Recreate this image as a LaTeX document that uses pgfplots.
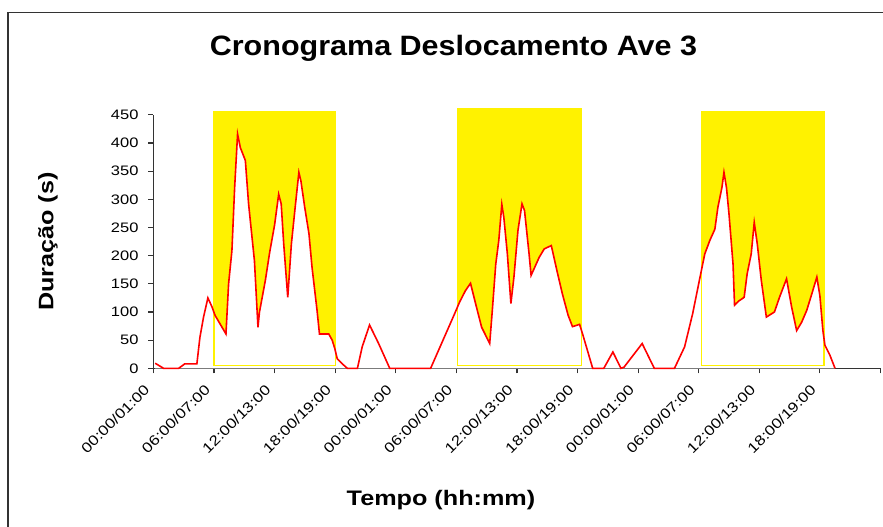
\documentclass[border=0pt]{standalone}
\usepackage{fontspec}
\setmainfont{Liberation Sans}[FakeStretch=1.2]
\newfontfamily\titlefont{Liberation Sans}[FakeStretch=1.09]
\usepackage{pgfplots}
\pgfplotsset{compat=1.18}
\usepackage{pgfplotstable}

\pgfplotstableread{
h v
0.17 9
1.0 0
2.5 0
3.1 8
4.3 8
4.6 55
4.96 91
5.39 125
5.8 109
6.1 94
7.18 61
7.44 150
7.77 209
8.04 321
8.33 416
8.6 392
9.1 369
9.42 292
10.0 191
10.35 73
10.5 100
11.08 156
11.5 205
12.0 255
12.4 309
12.65 292
12.9 221
13.3 126
13.66 221
14.0 280
14.4 348
14.6 333
14.98 286
15.4 239
15.7 180
16.2 103
16.44 61
17.36 61
17.7 50
17.96 35
18.2 17
18.7 8
19.2 0
20.2 0
20.67 38
21.4 77
22.3 44
23.4 0
27.45 0
29.9 100
30.3 117
30.9 138
31.4 151
31.9 115
32.5 73
33.3 44
33.56 103
33.9 185
34.2 227
34.5 291
34.7 268
35.05 203
35.4 115
35.7 162
36.1 245
36.5 292
36.75 280
37.2 203
37.4 165
38.2 197
38.7 212
39.4 218
39.95 174
40.5 132
41.07 94
41.5 74
42.2 78
42.5 61
43.5 0
44.6 0
45.5 29
46.3 0
46.6 2
48.4 44
49.6 0
51.6 0
52.6 38
53.4 97
54.2 168
54.6 203
55.1 227
55.6 247
55.9 286
56.3 321
56.5 348
56.75 321
57.0 274
57.4 185
57.55 112
58.0 120
58.5 126
58.8 168
59.2 203
59.5 259
59.8 221
60.2 156
60.7 91
61.5 100
62.0 126
62.7 159
63.2 109
63.7 67
64.2 82
64.7 103
65.2 132
65.7 162
66.0 129
66.3 67
66.5 41
67.0 23
67.5 0
}\duracao

\begin{document}
\begin{tikzpicture}[x=1pt,y=1pt]
\path[use as bounding box] (0,0) rectangle (662.25,395.25);
\fill[white] (0,0) rectangle (662.25,395.25);
\draw[line width=0.9pt, black!80] (6,-2) -- (6,385.9) -- (664,385.9);
\begin{axis}[
  at={(115.1pt,119.0pt)}, anchor=south west,
  width=545.25pt, height=190.1pt, scale only axis,
  xmin=0, xmax=72, ymin=0, ymax=450,
  axis x line=bottom, axis y line=left,
  axis line style={-, line width=1.1pt, black!80},
  tick align=outside, major tick length=3.75pt,
  tick style={black!80, line width=0.9pt},
  xtick={0,6,...,72},
  xticklabels={00:00/01:00,06:00/07:00,12:00/13:00,18:00/19:00,00:00/01:00,06:00/07:00,12:00/13:00,18:00/19:00,00:00/01:00,06:00/07:00,12:00/13:00,18:00/19:00,{}},
  ytick={0,50,...,450},
  xticklabel style={yshift=-8pt, xshift=-2.5pt, rotate=45, anchor=east, font=\fontsize{10.6}{12}\selectfont},
  yticklabel style={xshift=-4pt, font=\fontsize{10.3}{12}\selectfont},
  /pgf/number format/assume math mode=true,
  clip=false,
]
% yellow periods
\addplot[fill=yellow, draw=none] coordinates {(6.0,5) (6.0,455) (18.0,455) (18.0,5)} -- cycle;
\addplot[fill=yellow, draw=none] coordinates {(30.1,5) (30.1,462) (42.4,462) (42.4,5)} -- cycle;
\addplot[fill=yellow, draw=none] coordinates {(54.3,5) (54.3,455) (66.4,455) (66.4,5)} -- cycle;
% white under the curve
\addplot[fill=white, draw=none] table[x=h, y=v] {\duracao} \closedcycle;
% yellow outlines
\addplot[draw=yellow, line width=0.9pt] coordinates {(6.0,5) (6.0,455) (18.0,455) (18.0,5)} -- cycle;
\addplot[draw=yellow, line width=0.9pt] coordinates {(30.1,5) (30.1,462) (42.4,462) (42.4,5)} -- cycle;
\addplot[draw=yellow, line width=0.9pt] coordinates {(54.3,5) (54.3,455) (66.4,455) (66.4,5)} -- cycle;
% red line
\addplot[red, line width=1.2pt] table[x=h, y=v] {\duracao};
\end{axis}
\node[font=\titlefont\bfseries\fontsize{21}{24}\selectfont] at (340.1,359) {Cronograma Deslocamento Ave 3};
\node[font=\bfseries\fontsize{15.75}{18}\selectfont] at (330.75,20.25) {Tempo (hh:mm)};
\node[font=\bfseries\fontsize{15.75}{18}\selectfont, rotate=90] at (36,214) {Duração (s)};
\end{tikzpicture}
\end{document}
